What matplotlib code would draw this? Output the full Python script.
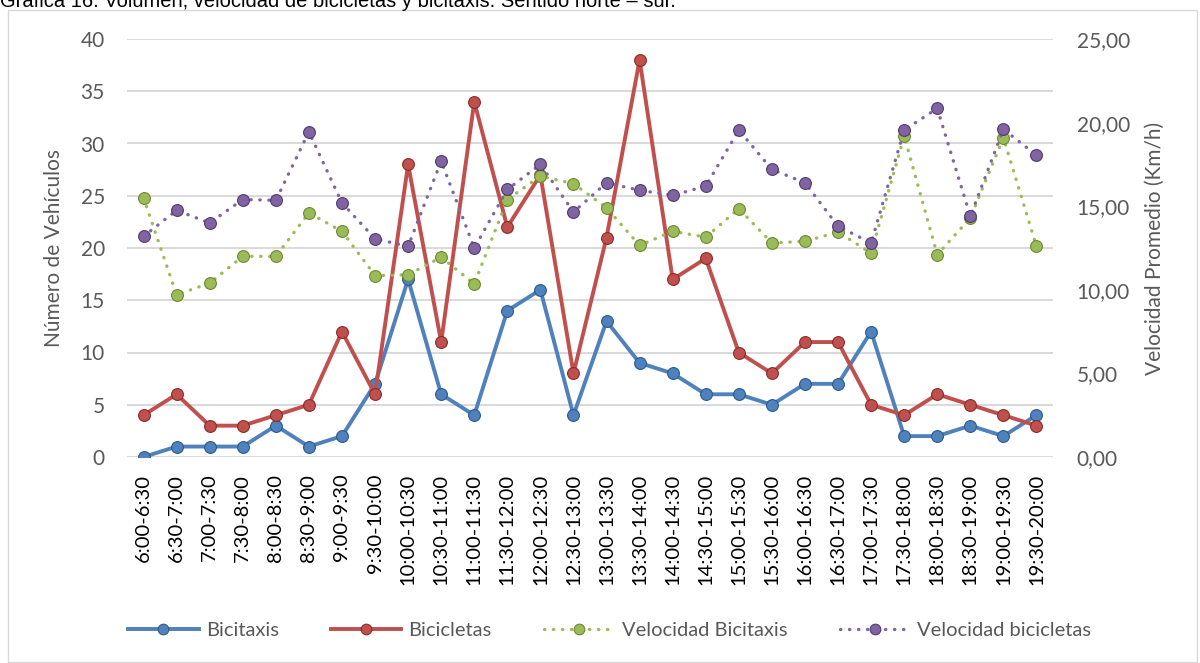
import matplotlib.pyplot as plt
import matplotlib.patches as patches
from matplotlib.ticker import FuncFormatter, MultipleLocator

# Time slots (30 min) - sentido norte-sur
franjas = ["6:00-6:30", "6:30-7:00", "7:00-7:30", "7:30-8:00", "8:00-8:30",
           "8:30-9:00", "9:00-9:30", "9:30-10:00", "10:00-10:30", "10:30-11:00",
           "11:00-11:30", "11:30-12:00", "12:00-12:30", "12:30-13:00", "13:00-13:30",
           "13:30-14:00", "14:00-14:30", "14:30-15:00", "15:00-15:30", "15:30-16:00",
           "16:00-16:30", "16:30-17:00", "17:00-17:30", "17:30-18:00", "18:00-18:30",
           "18:30-19:00", "19:00-19:30", "19:30-20:00"]

bicitaxis = [0, 1, 1, 1, 3, 1, 2, 7, 17, 6, 4, 14, 16, 4, 13, 9, 8, 6, 6, 5,
             7, 7, 12, 2, 2, 3, 2, 4]
bicicletas = [4, 6, 3, 3, 4, 5, 12, 6, 28, 11, 34, 22, 27, 8, 21, 38, 17, 19, 10, 8,
              11, 11, 5, 4, 6, 5, 4, 3]
vel_bicitaxis = [15.5, 9.7, 10.4, 12.0, 12.0, 14.6, 13.5, 10.85, 10.9, 11.95, 10.35,
                 15.4, 16.8, 16.35, 14.9, 12.65, 13.5, 13.15, 14.85, 12.8, 12.9,
                 13.45, 12.2, 19.2, 12.1, 14.3, 19.1, 12.6]
vel_bicicletas = [13.2, 14.75, 14.0, 15.4, 15.35, 19.45, 15.2, 13.05, 12.6, 17.7, 12.5,
                  16.0, 17.5, 14.65, 16.4, 15.95, 15.65, 16.2, 19.55, 17.2, 16.4,
                  13.8, 12.8, 19.55, 20.85, 14.4, 19.6, 18.05]

AZUL = "#4f81bd"
ROJO = "#c0504d"
VERDE = "#9bbb59"
MORADO = "#8064a2"
GRIS = "#595959"

plt.rcParams["font.family"] = ["Lato", "DejaVu Sans"]

fig = plt.figure(figsize=(12, 6.63), dpi=100)

# light border round the chart + caption above it (cut by the top edge, as in the original)
fig.patches.append(patches.Rectangle((8 / 1200, 1 / 663), 1189 / 1200, 652 / 663,
                                     transform=fig.transFigure, fill=False,
                                     edgecolor="#d9d9d9", linewidth=1.0))
fig.text(0.0, 1 - 7 / 663,
         "Gráfica 16. Volumen, velocidad de bicicletas y bicitaxis. Sentido norte – sur.",
         fontsize=14.5, family=["Liberation Sans", "DejaVu Sans"], va="baseline",
         ha="left", color="black")

ax = fig.add_axes([127 / 1200, 206 / 663, 926 / 1200, 418 / 663])
ax2 = ax.twinx()

x = list(range(len(franjas)))

l1, = ax.plot(x, bicitaxis, color=AZUL, lw=2.8, marker="o", ms=8.5,
              mfc=AZUL, mec="#2c5a8c", mew=0.8, label="Bicitaxis")
l2, = ax.plot(x, bicicletas, color=ROJO, lw=2.8, marker="o", ms=8.5,
              mfc=ROJO, mec="#8c2a28", mew=0.8, label="Bicicletas")
l3, = ax2.plot(x, vel_bicitaxis, color=VERDE, lw=2.4, ls=(0, (0.1, 2.6)),
               dash_capstyle="round", marker="o", ms=8.5, mfc=VERDE,
               mec="#6b8a2e", mew=0.8, label="Velocidad Bicitaxis")
l4, = ax2.plot(x, vel_bicicletas, color=MORADO, lw=2.4, ls=(0, (0.1, 2.6)),
               dash_capstyle="round", marker="o", ms=8.5, mfc=MORADO,
               mec="#4f3a70", mew=0.8, label="Velocidad bicicletas")

ax.set_xlim(-0.5, len(franjas) - 0.5)
ax.set_ylim(0, 40)
ax.yaxis.set_major_locator(MultipleLocator(5))
ax2.set_ylim(0, 25)
ax2.yaxis.set_major_locator(MultipleLocator(5))
ax2.yaxis.set_major_formatter(FuncFormatter(lambda v, p: f"{v:.2f}".replace(".", ",")))

ax.grid(axis="y", color="#d9d9d9", lw=1.4)
ax.set_axisbelow(True)
for a in (ax, ax2):
    for s in a.spines.values():
        s.set_visible(False)
    a.tick_params(length=0, labelsize=15, colors=GRIS)

ax.set_xticks(x)
ax.set_xticklabels(franjas, rotation=90, fontsize=14.5, color="black")
ax.tick_params(axis="x", pad=12)
ax.tick_params(axis="y", pad=16)
ax2.tick_params(axis="y", pad=17)

ax.set_ylabel("Número de Vehículos", fontsize=15, color=GRIS, labelpad=12)
ax2.set_ylabel("Velocidad Promedio (Km/h)", fontsize=15, color=GRIS, labelpad=11)

fig.legend(handles=[l1, l2, l3, l4], loc="center", ncol=4,
           bbox_to_anchor=(0.508, 1 - 630 / 663), frameon=False, fontsize=14.5,
           handlelength=3.5, handletextpad=0.35, columnspacing=2.6,
           labelcolor=GRIS, markerscale=0.9)

fig.savefig("out.png", dpi=100)
